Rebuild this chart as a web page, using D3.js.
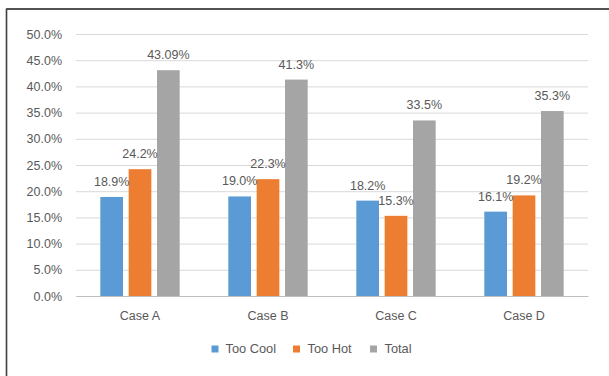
<!DOCTYPE html>
<html>
<head>
<meta charset="utf-8">
<script src="https://cdn.jsdelivr.net/npm/d3@7"></script>
<style>
  html, body { margin: 0; padding: 0; background: #fff; }
  svg { display: block; }
  text { font-family: "Liberation Sans", Arial, sans-serif; fill: #595959; }
</style>
</head>
<body>
<svg id="chart" width="609" height="376"></svg>
<script>
// Share of occupants reporting discomfort per case
const categories = ["Case A", "Case B", "Case C", "Case D"];
const seriesNames = ["Too Cool", "Too Hot", "Total"];
const tooCool = [18.9, 19.0, 18.2, 16.1];
const tooHot = [24.2, 22.3, 15.3, 19.2];
const total = [43.09, 41.3, 33.5, 35.3];
const totalLabels = ["43.09%", "41.3%", "33.5%", "35.3%"];
const yTicks = [0, 5, 10, 15, 20, 25, 30, 35, 40, 45, 50];
const colors = ["#5b9bd5", "#ed7d31", "#a5a5a5"];

const seriesValues = [tooCool, tooHot, total];
const labelFor = (s, i, v) => s === 2 ? totalLabels[i] : v.toFixed(1) + "%";

const svg = d3.select("#chart");

// Frame around the chart area
svg.append("line").attr("x1", 6.5).attr("x2", 609).attr("y1", 9).attr("y2", 9)
  .attr("stroke", "#1a1a1a").attr("stroke-width", 1.3);
svg.append("line").attr("x1", 6.5).attr("x2", 6.5).attr("y1", 8.5).attr("y2", 376)
  .attr("stroke", "#3f3f3f").attr("stroke-width", 1.6);

const y = d3.scaleLinear().domain([0, 50]).range([296, 34]);
const x = d3.scaleBand().domain(categories).range([76, 588])
  .paddingInner(0.38).paddingOuter(0.19);
const xs = d3.scaleBand().domain(d3.range(seriesNames.length))
  .range([0, x.bandwidth()]).paddingInner(0.2).paddingOuter(0);

// Gridlines and value axis labels
const yAxis = d3.axisLeft(y).tickValues(yTicks)
  .tickFormat(d => d.toFixed(1) + "%")
  .tickSize(-(588 - 76)).tickPadding(14);
const gy = svg.append("g").attr("transform", "translate(76,0)").call(yAxis);
gy.select(".domain").remove();
gy.selectAll(".tick line").attr("stroke", "#d9d9d9").attr("stroke-width", 1);
gy.selectAll(".tick text").style("font-size", "12.5px").attr("fill", "#595959");

// Category axis
const xAxis = d3.axisBottom(x).tickSize(0).tickPadding(15);
const gx = svg.append("g").attr("transform", "translate(0,296)").call(xAxis);
gx.select(".domain").attr("stroke", "#bfbfbf").attr("stroke-width", 1.2);
gx.selectAll(".tick text").style("font-size", "12.5px").attr("fill", "#595959");

// Bars
const groups = svg.append("g").selectAll("g")
  .data(categories).join("g")
  .attr("transform", d => `translate(${x(d)},0)`);

groups.each(function(cat, i) {
  const g = d3.select(this);
  seriesValues.forEach((vals, s) => {
    const v = vals[i];
    g.append("rect")
      .attr("x", xs(s)).attr("width", xs.bandwidth())
      .attr("y", y(v)).attr("height", y(0) - y(v))
      .attr("fill", colors[s]);
  });
  seriesValues.forEach((vals, s) => {
    const v = vals[i];
    g.append("text")
      .attr("x", xs(s) + xs.bandwidth() / 2)
      .attr("y", y(v) - 11)
      .attr("text-anchor", "middle")
      .style("font-size", "12.5px")
      .attr("fill", "#404040")
      .text(labelFor(s, i, v));
  });
});

// Legend
const legendItems = [
  { name: seriesNames[0], sx: 211.5, tx: 225.5 },
  { name: seriesNames[1], sx: 293, tx: 307.5 },
  { name: seriesNames[2], sx: 370, tx: 384.5 }
];
const lg = svg.append("g");
legendItems.forEach((d, i) => {
  lg.append("rect").attr("x", d.sx).attr("y", 345.5).attr("width", 7).attr("height", 7)
    .attr("fill", colors[i]);
  lg.append("text").attr("x", d.tx).attr("y", 353.2)
    .style("font-size", "12.8px").attr("fill", "#595959").text(d.name);
});
</script>
</body>
</html>
